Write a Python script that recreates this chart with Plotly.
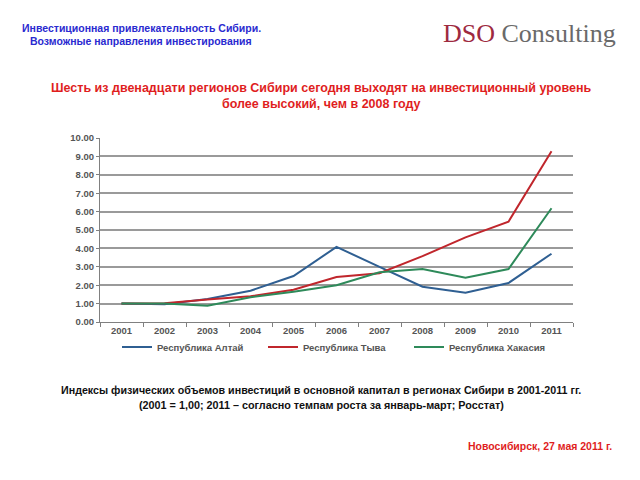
import plotly.graph_objects as go

years = ["2001", "2002", "2003", "2004", "2005", "2006", "2007", "2008", "2009", "2010", "2011"]
altai = [1.00, 0.97, 1.25, 1.70, 2.50, 4.08, 3.00, 1.92, 1.59, 2.12, 3.71]
tyva = [1.00, 1.02, 1.22, 1.40, 1.75, 2.44, 2.65, 3.58, 4.60, 5.45, 9.28]
khakasia = [1.00, 1.00, 0.88, 1.35, 1.65, 2.00, 2.70, 2.88, 2.40, 2.88, 6.18]
series_names = ["Республика Алтай", "Республика Тыва", "Республика Хакасия"]
colors = ["#2f5f92", "#c0262c", "#2e8a5a"]

W, H = 640, 480
L, R, T, B = 100, 573, 138, 322
PW, PH = R - L, B - T


def px(x):
    return (x - L) / PW


def py(y):
    return (B - y) / PH


fig = go.Figure()
for name, vals, col in zip(series_names, [altai, tyva, khakasia], colors):
    fig.add_trace(go.Scatter(x=years, y=vals, name=name, mode="lines",
                             line=dict(color=col, width=2)))

FONT = "Liberation Sans"
ann = []


def add_text(text, x, y, size, color, xanchor="center", family=FONT, weight="bold"):
    ann.append(dict(text=text, x=px(x), y=py(y), xref="paper", yref="paper",
                    xanchor=xanchor, yanchor="middle", showarrow=False,
                    font=dict(family=family, size=size, color=color, weight=weight)))


add_text("Инвестиционная привлекательность Сибири.", 141, 28, 10.5, "#2a2ad0")
add_text("Возможные направления инвестирования", 141, 41, 10.5, "#2a2ad0")
add_text("<span style='color:#9e2a3f'>DSO</span> Consulting", 529, 33, 26, "#6a6a6a",
         family="Liberation Serif", weight="normal")
add_text("Шесть из двенадцати регионов Сибири сегодня выходят на инвестиционный уровень",
         321, 88, 12.5, "#e01e1e")
add_text("более высокий, чем в 2008 году", 321, 104, 12.5, "#e01e1e")
add_text("Индексы физических объемов инвестиций в основной капитал в регионах Сибири в 2001-2011 гг.",
         321, 390, 10.7, "#111111")
add_text("(2001 = 1,00; 2011 – согласно темпам роста за январь-март; Росстат)",
         321, 405, 10.8, "#111111")
add_text("Новосибирск, 27 мая 2011 г.", 614, 446, 10.5, "#e01e1e", xanchor="right")

fig.update_layout(
    width=W, height=H, autosize=False,
    margin=dict(l=L, r=W - R, t=T, b=H - B, pad=0),
    paper_bgcolor="white", plot_bgcolor="white",
    showlegend=True,
    legend=dict(orientation="h", x=px(117), xanchor="left", y=py(347), yanchor="middle",
                entrywidth=101, entrywidthmode="pixels", itemwidth=30,
                font=dict(family=FONT, size=9.5, color="#555555", weight="bold"),
                bgcolor="rgba(0,0,0,0)", tracegroupgap=0),
    annotations=ann,
    xaxis=dict(type="category", categoryorder="array", categoryarray=years,
               range=[-0.5, len(years) - 0.5],
               showgrid=False, showline=True, linecolor="#808080", linewidth=1,
               ticks="outside", tickson="boundaries", ticklen=4, tickcolor="#808080",
               tickfont=dict(family=FONT, size=9.5, color="#555555", weight="bold"),
               zeroline=False, fixedrange=True),
    yaxis=dict(range=[0, 10], dtick=1, tickformat=".2f",
               showgrid=True, gridcolor="#9a9a9a", gridwidth=1.5,
               showline=True, linecolor="#808080", linewidth=1,
               ticks="outside", ticklen=3, tickcolor="#808080",
               tickfont=dict(family=FONT, size=9.5, color="#555555", weight="bold"),
               zeroline=False, fixedrange=True),
)

fig.write_html("out.html")
